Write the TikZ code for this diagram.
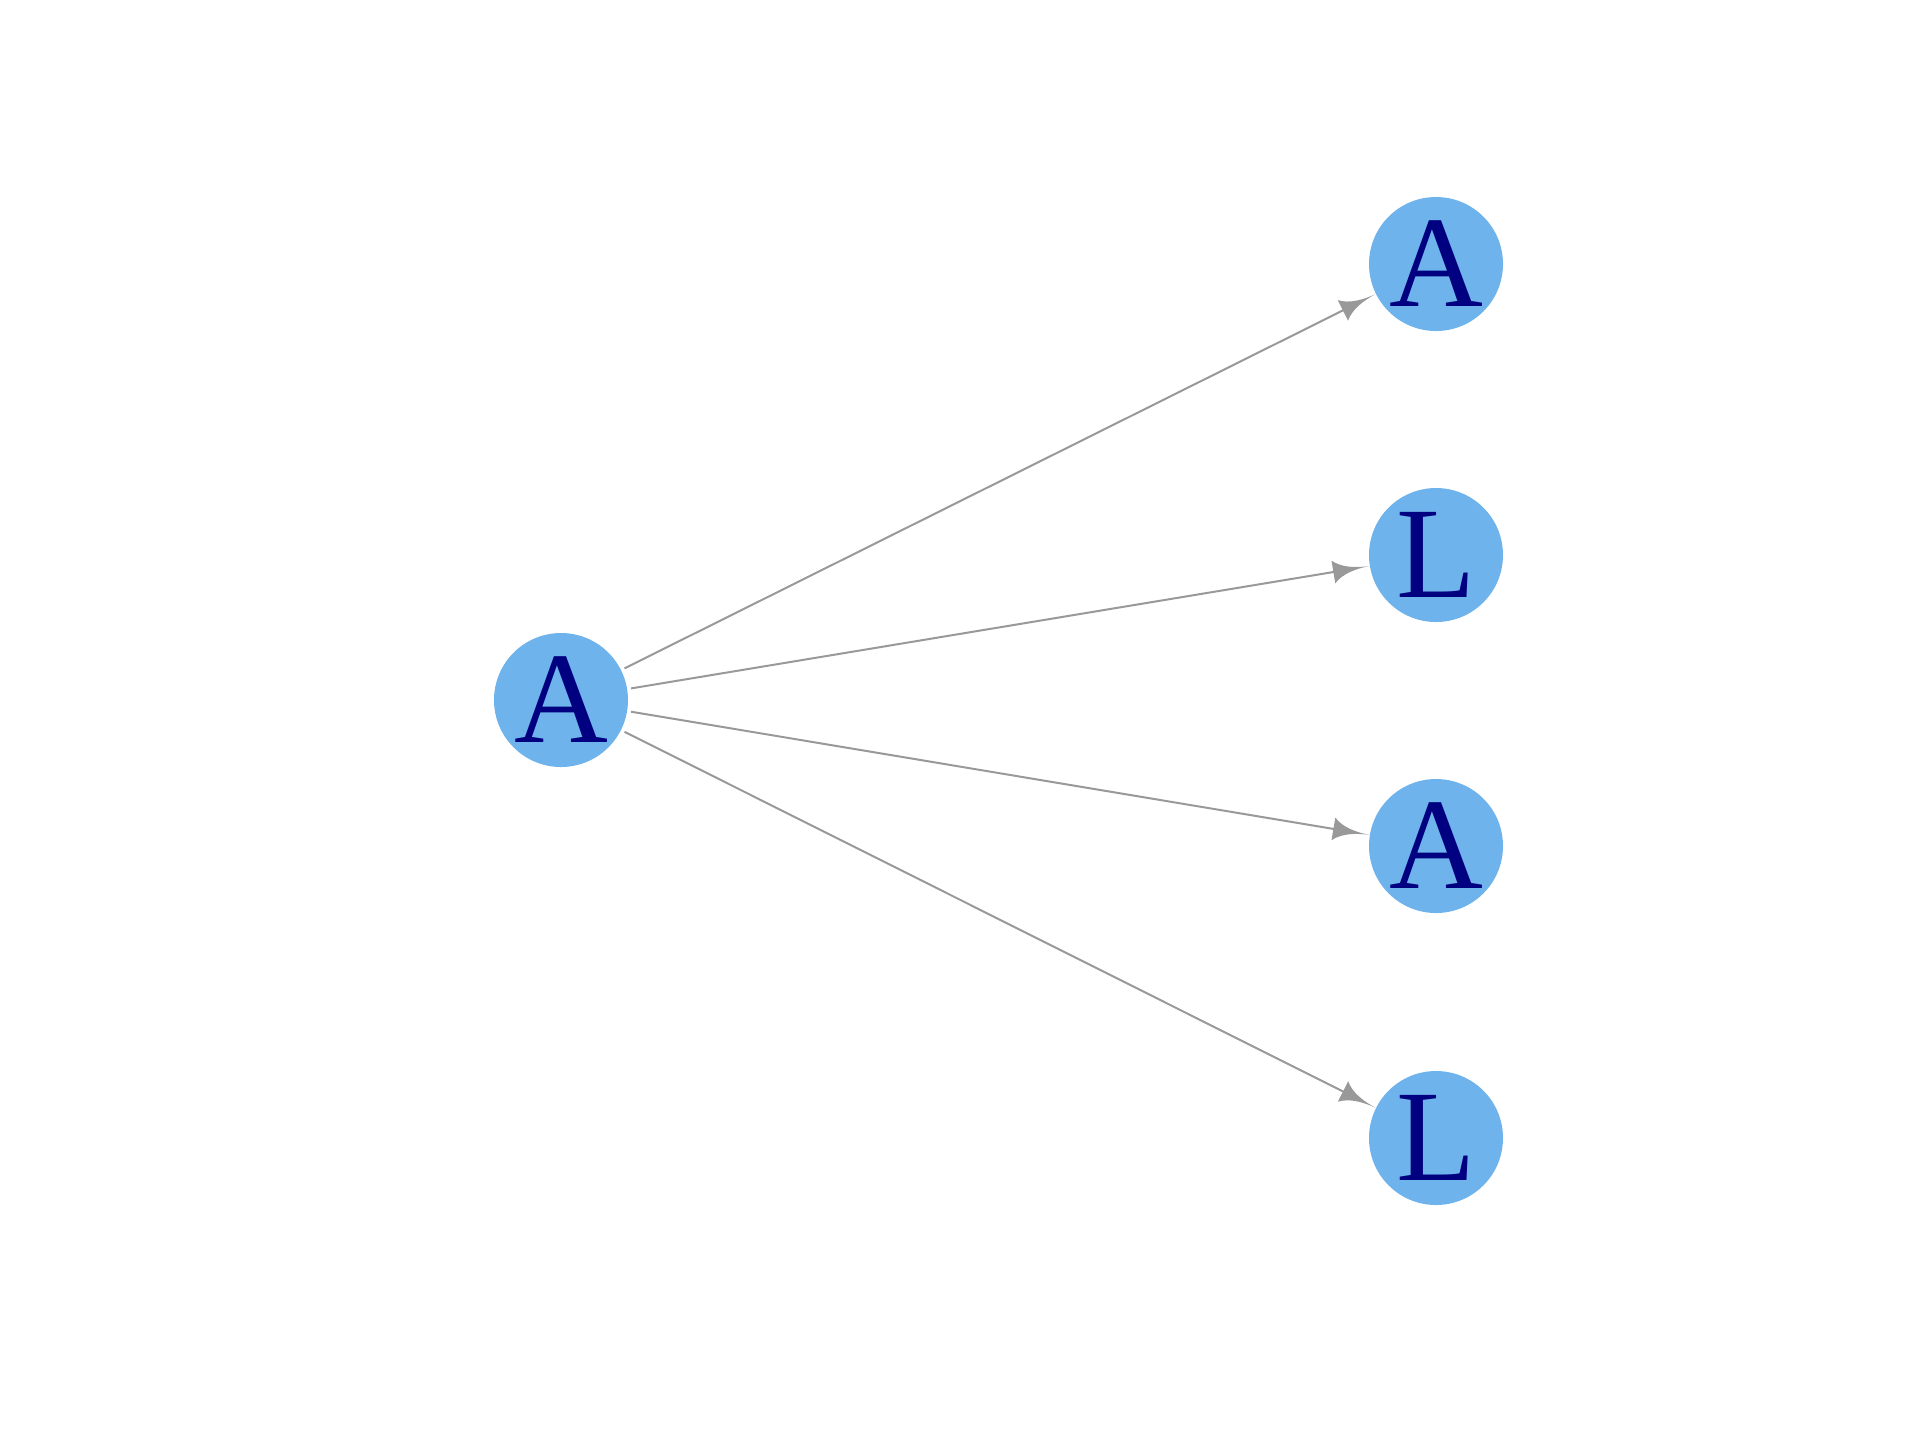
\documentclass[tikz,border=0pt]{standalone}
\usepackage{fontspec}
\setmainfont{Liberation Serif}
\usetikzlibrary{arrows.meta}
\definecolor{nodeblue}{RGB}{110,179,235}
\definecolor{letternavy}{RGB}{0,0,128}
\definecolor{edgegray}{RGB}{153,153,153}

\pgfdeclarearrow{
  name=Swept,
  parameters={\the\pgfarrowlength,\the\pgfarrowwidth},
  setup code={
    \pgfarrowssettipend{0pt}
    \pgfarrowssetlineend{-0.5\pgfarrowlength}
    \pgfarrowssetbackend{-\pgfarrowlength}
    \pgfarrowssavethe\pgfarrowlength
    \pgfarrowssavethe\pgfarrowwidth
  },
  drawing code={
    \pgfpathmoveto{\pgfpoint{0pt}{0pt}}
    \pgfpathcurveto{\pgfpoint{-0.35\pgfarrowlength}{0.02\pgfarrowwidth}}{\pgfpoint{-0.75\pgfarrowlength}{0.12\pgfarrowwidth}}{\pgfpoint{-\pgfarrowlength}{0.5\pgfarrowwidth}}
    \pgfpathlineto{\pgfpoint{-\pgfarrowlength}{-0.5\pgfarrowwidth}}
    \pgfpathcurveto{\pgfpoint{-0.75\pgfarrowlength}{-0.12\pgfarrowwidth}}{\pgfpoint{-0.35\pgfarrowlength}{-0.02\pgfarrowwidth}}{\pgfpoint{0pt}{0pt}}
    \pgfpathclose
    \pgfusepathqfill
  },
  defaults={length=9pt,width=5.75pt}
}

\begin{document}
\begin{tikzpicture}[x=0.25pt,y=-0.25pt,->,>={Swept},edgegray,line width=0.5pt,shorten <=0.75pt,
  every node/.style={circle,fill=nodeblue,text=letternavy,minimum size=33.5pt,inner sep=0pt,font=\fontsize{32.5}{32.5}\selectfont}]
  \useasboundingbox (0,0) rectangle (1920,1440);
  \node (A0) at (561,700) {A};
  \node (A1) at (1436,264) {A};
  \node (L1) at (1436,555) {L};
  \node (A2) at (1436,846) {A};
  \node (L2) at (1436,1138) {L};
  \path (A0) edge (A1)
  (A0) edge (L1)
  (A0) edge (A2)
  (A0) edge (L2)
  ;
\end{tikzpicture}
\end{document}
